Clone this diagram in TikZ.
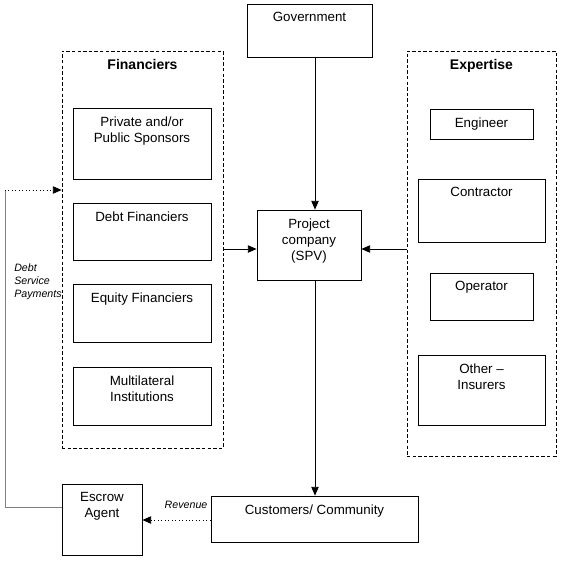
\documentclass[tikz,border=0pt]{standalone}
\usepackage{fontspec}
\setmainfont{Liberation Sans}
\usetikzlibrary{positioning,arrows.meta,fit}

\begin{document}
\begin{tikzpicture}[x=0.75pt, y=-0.75pt, inner sep=0pt,
  every node/.style={font=\fontsize{10}{12}\selectfont},
  box/.style={draw, line width=0.6pt},
  group/.style={draw, line width=0.6pt, dash pattern=on 2.6pt off 1.6pt},
  lbl/.style={anchor=north, align=center, inner sep=0pt, yshift=-6.5pt},
  ttl/.style={lbl, font=\fontsize{10.5}{12}\selectfont\bfseries},
  note/.style={font=\fontsize{8}{9.4}\selectfont\itshape, align=left},
  arr/.style={-{Triangle[length=6.5pt,width=5.5pt]}, line width=0.6pt}]
\useasboundingbox (0,0) rectangle (563,560);
\node[box, fit={(247,4) (372,57)}, label={[lbl]north:Government}] (gov) {};
\node[group, fit={(62,51) (223,448)}, label={[ttl]north:Financiers}] (fin) {};
\node[group, fit={(407,51) (556,456)}, label={[ttl]north:Expertise}] (exp) {};
\node[box, fit={(73,108) (211,179)}, label={[lbl]north:Private and/or\\Public Sponsors}] (spons) {};
\node[box, fit={(73,203) (211,260)}, label={[lbl]north:Debt Financiers}] (debt) {};
\node[box, fit={(73,284) (211,342)}, label={[lbl]north:Equity Financiers}] (equity) {};
\node[box, fit={(73,367) (211,425)}, label={[lbl]north:Multilateral\\Institutions}] (multi) {};
\node[box, fit={(430,109) (533,139)}, label={[lbl]north:Engineer}] (eng) {};
\node[box, fit={(418,179) (545,242)}, label={[lbl]north:Contractor}] (contr) {};
\node[box, fit={(430,273) (533,320)}, label={[lbl]north:Operator}] (oper) {};
\node[box, fit={(418,355) (545,425)}, label={[lbl]north:Other --\\Insurers}] (other) {};
\node[box, fit={(257,210) (361,280)}, label={[lbl]north:Project\\company\\(SPV)}] (spv) {};
\node[box, fit={(211,496) (418,542)}, label={[lbl]north:Customers/ Community}] (cust) {};
\node[box, fit={(62,484) (142,555)}, label={[lbl]north:Escrow\\Agent}] (escrow) {};
\node[note, anchor=north west] (dsp) at (14,264) {Debt\\Service\\Payments};
\coordinate (vx) at (315,249);
\coordinate (c1) at (5,507);
\coordinate (c2) at (5,190);
\foreach \i/\j in {gov.south/spv.north, spv.south/cust.north}{\draw[arr] (\i -| vx) -- (\j -| vx);}
\foreach \i/\j in {fin.east/spv.west, exp.west/spv.east}{\draw[arr] (\i |- vx) -- (\j |- vx);}
\draw[arr, dotted] (cust.west |- 0,520) -- node[note, pos=0.36, above=8pt] (rev) {Revenue} (escrow.east |- 0,520);
\draw[gray, line width=0.6pt] (escrow.west |- c1) -- (c1) -- (c2);
\draw[arr, dotted] (c2) -- (fin.west |- c2);
\end{tikzpicture}
\end{document}
